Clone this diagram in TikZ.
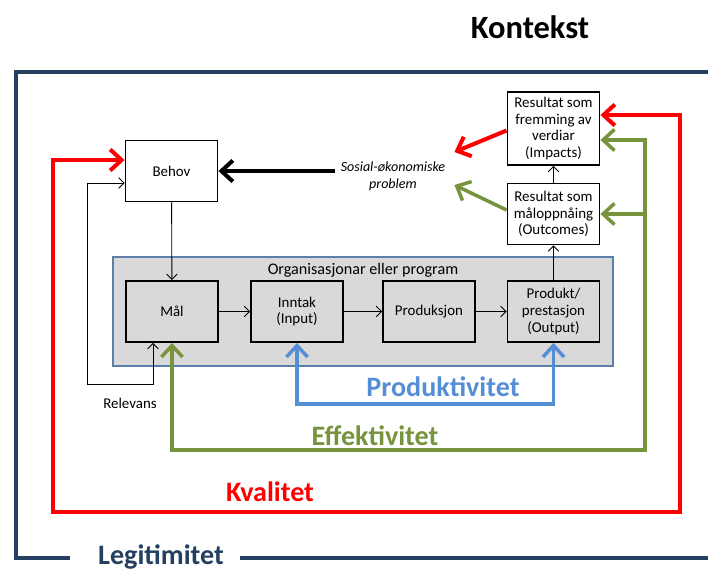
\documentclass[tikz,border=0pt]{standalone}
\usepackage{fontspec}
\setmainfont{Carlito}
\usetikzlibrary{arrows.meta,calc}

\definecolor{legitblue}{HTML}{243F60}
\definecolor{kvalred}{HTML}{FF0000}
\definecolor{effgreen}{HTML}{77933C}
\definecolor{prodblue}{HTML}{558ED5}
\definecolor{orgborder}{HTML}{5B7FA8}
\definecolor{orgfill}{HTML}{D9D9D9}

\begin{document}
\begin{tikzpicture}[x=0.02cm, y=-0.02cm,
    box/.style={draw, line width=1.1pt, minimum width=1.84cm, minimum height=1.22cm,
        align=center, inner sep=1pt, font=\fontsize{8.5}{9.5}\selectfont},
    link/.style={line width=0.5pt, -{Straight Barb[length=3pt,width=6pt]}},
    loop/.style={line width=#1, {Straight Barb[length=6.5pt,width=12pt]}-{Straight Barb[length=6.5pt,width=12pt]}},
    onearrow/.style={line width=#1, -{Straight Barb[length=6.5pt,width=12pt]}},
    biglabel/.style={font=\fontsize{16}{18}\selectfont\bfseries}]
    \useasboundingbox (0,0) rectangle (708,572);

    % title and outer frame
    \node[font=\fontsize{18.5}{20}\selectfont\bfseries] (kontekst) at (530,27) {Kontekst};
    \node[font=\fontsize{16}{18}\selectfont\bfseries, text=legitblue, inner sep=1pt] (legit) at (161,557) {Legitimitet};
    \draw[legitblue, line width=2.4pt] (70,558) -- (16,558) -- (16,72) -- (720,72);
    \draw[legitblue, line width=2.4pt] (240,558) -- (720,558);

    % organisation
    \node[draw=orgborder, line width=1pt, fill=orgfill, minimum width=10cm, minimum height=2.18cm] (org) at (363,311.5) {};
    \node[below=0.5pt, font=\fontsize{9.2}{10}\selectfont] (orglabel) at (org.north) {Organisasjonar eller program};
    \node[box] (mal) at (172,311.5) {Mål};
    \node[box] (inntak) at (297,311.5) {Inntak\\(Input)};
    \node[box] (produksjon) at (429,311.5) {Produksjon};
    \node[box] (produkt) at (553.5,311.5) {Produkt/\\prestasjon\\(Output)};

    % results and needs
    \node[box, fill=white] (behov) at (171.5,171) {Behov};
    \node[box, fill=white] (outcomes) at (553.5,214) {Resultat som\\måloppnåing\\(Outcomes)};
    \node[box, fill=white, minimum height=1.46cm] (impacts) at (553.5,128.5) {Resultat som\\fremming av\\verdiar\\(Impacts)};
    \node[align=center, font=\fontsize{8}{9.5}\selectfont\itshape] (sosial) at (393,176) {Sosial-økonomiske\\problem};

    \draw[link] (behov) -- (mal);
    \draw[link] (mal) -- (inntak);
    \draw[link] (inntak) -- (produksjon);
    \draw[link] (produksjon) -- (produkt);
    \draw[link] (produkt) -- (outcomes);
    \draw[link] (outcomes) -- (impacts);
    \draw[onearrow=2.3pt] (sosial.west |- behov.east) -- (behov.east);

    % relevans
    \draw[line width=0.5pt, {Straight Barb[length=3pt,width=6pt]}-{Straight Barb[length=3pt,width=6pt]}]
        ($(mal.south)+(-19,0)$) |- (87,384) |- ($(behov.west)+(0,12)$);
    \node[font=\fontsize{8.5}{9}\selectfont] (relevans) at (130,403) {Relevans};

    % produktivitet
    \draw[prodblue, loop=2pt] (inntak.south) -- ++(0,61) -| (produkt.south);
    \node[biglabel, text=prodblue] (produktivitet) at (443,387) {Produktivitet};

    % effektivitet
    \coordinate (effend) at ($(impacts.east)+(0,11.5)$);
    \draw[effgreen, loop=2pt] (effend) -| (645,450) -| (mal.south);
    \draw[effgreen, onearrow=2pt] (645,214) -- (outcomes.east);
    \draw[effgreen, onearrow=2pt] ($(outcomes.west)+(0,-4)$) -- ($(sosial.east)+(3,9)$);
    \node[biglabel, text=effgreen] (effektivitet) at (375,436) {Effektivitet};

    % kvalitet
    \coordinate (kvalend) at ($(impacts.east)+(0,-13.5)$);
    \draw[kvalred, loop=2.3pt] (kvalend) -| (680,512) -| (53,160) -- ($(behov.west)+(0,-11)$);
    \draw[kvalred, onearrow=2.3pt] ($(impacts.west)+(0,2)$) -- ($(sosial.east)+(3,-24)$);
    \node[biglabel, text=kvalred] (kvalitet) at (270,492) {Kvalitet};
\end{tikzpicture}
\end{document}
